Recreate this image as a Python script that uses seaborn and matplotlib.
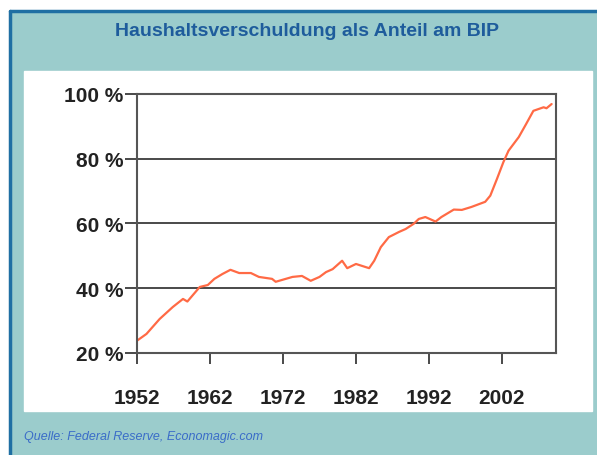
import numpy as np
import pandas as pd
import matplotlib
matplotlib.use("Agg")
import matplotlib.pyplot as plt
from matplotlib.patches import Rectangle
from matplotlib.lines import Line2D
import seaborn as sns

# ---------------------------------------------------------------------------
# Data
# ---------------------------------------------------------------------------
years = [1952.0, 1953.3, 1955.1, 1956.9, 1958.3, 1958.9, 1960.6, 1961.7,
         1962.6, 1963.7, 1964.8, 1966.0, 1967.6, 1968.7, 1970.5, 1971.0,
         1973.3, 1974.6, 1975.8, 1977.0, 1977.9, 1978.8, 1980.1, 1980.8,
         1982.0, 1983.8, 1984.5, 1985.4, 1986.5, 1987.9, 1988.8, 1989.9,
         1990.6, 1991.5, 1992.9, 1993.7, 1995.4, 1996.5, 1997.8, 1999.7,
         2000.4, 2001.3, 2002.2, 2002.9, 2004.3, 2005.3, 2006.3, 2007.7,
         2008.1, 2008.8]
debt_pct = [23.8, 25.9, 30.5, 34.2, 36.7, 35.9, 40.4, 41.0,
            42.9, 44.4, 45.7, 44.7, 44.7, 43.5, 42.9, 42.0,
            43.5, 43.8, 42.3, 43.5, 45.0, 45.9, 48.5, 46.2,
            47.5, 46.2, 48.5, 52.7, 55.8, 57.4, 58.3, 59.9,
            61.4, 62.0, 60.6, 62.0, 64.3, 64.2, 65.1, 66.7,
            68.6, 73.7, 79.0, 82.5, 86.7, 90.7, 94.8, 95.9,
            95.6, 96.9]

x_ticks = [1952, 1962, 1972, 1982, 1992, 2002]
y_ticks = [20, 40, 60, 80, 100]

title = "Haushaltsverschuldung als Anteil am BIP"
source = "Quelle: Federal Reserve, Economagic.com"

df = pd.DataFrame({"Jahr": years, "Anteil": debt_pct})

# ---------------------------------------------------------------------------
# Figure
# ---------------------------------------------------------------------------
sns.set_style("white")
plt.rcParams["font.family"] = ["Liberation Sans", "DejaVu Sans"]

W, H = 597, 456
fig = plt.figure(figsize=(W / 100, H / 100), dpi=100)
fig.patch.set_facecolor("white")

teal = "#9bcccc"
border = "#1f6fa3"
fig.patches.append(Rectangle((10 / W, 0), (W - 10) / W, (H - 12) / H,
                             transform=fig.transFigure, color=teal, zorder=0))
fig.patches.append(Rectangle((24 / W, 1 - 412 / H), (592 - 24) / W, (412 - 72) / H,
                             transform=fig.transFigure, color="white", zorder=0.5))
fig.lines.append(Line2D([10 / W, 10 / W], [0, 1 - 12 / H], transform=fig.transFigure,
                        color=border, lw=2.5))
fig.lines.append(Line2D([10 / W, 1], [1 - 12 / H, 1 - 12 / H], transform=fig.transFigure,
                        color=border, lw=2.5))

ax = fig.add_axes([137 / W, 1 - 354 / H, (556 - 137) / W, (354 - 95) / H])
ax.set_zorder(2)
ax.set_facecolor("none")

sns.lineplot(data=df, x="Jahr", y="Anteil", ax=ax, color="#ff6a45", linewidth=1.6)

ax.set_xlim(1952, 2009.4)
ax.set_ylim(20, 100)
ax.set_xticks(x_ticks)
ax.set_xticklabels([str(y) for y in x_ticks])
ax.set_yticks(y_ticks)
ax.set_yticklabels([f"{v} %" for v in y_ticks])
ax.set_xlabel("")
ax.set_ylabel("")

ax.grid(axis="y", color="#3a3a3a", linewidth=1.3)
ax.set_axisbelow(True)
for s in ax.spines.values():
    s.set_color("#555555")
    s.set_linewidth(1.5)

ax.tick_params(axis="y", left=True, length=9, width=1.3, color="#3a3a3a", pad=1,
               labelsize=15, labelcolor="#222222")
ax.tick_params(axis="x", bottom=True, length=8, width=1.3, color="#3a3a3a", pad=17,
               labelsize=15, labelcolor="#222222")
for lab in ax.get_xticklabels() + ax.get_yticklabels():
    lab.set_fontweight("bold")

fig.text(307 / W, 1 - 31 / H, title, ha="center", va="center",
         fontsize=14, fontweight="bold", color="#1e5c9c")
fig.text(24 / W, 1 - 437 / H, source, ha="left", va="center",
         fontsize=9, style="italic", color="#3a6cc8")

fig.savefig("out.png", dpi=100)
